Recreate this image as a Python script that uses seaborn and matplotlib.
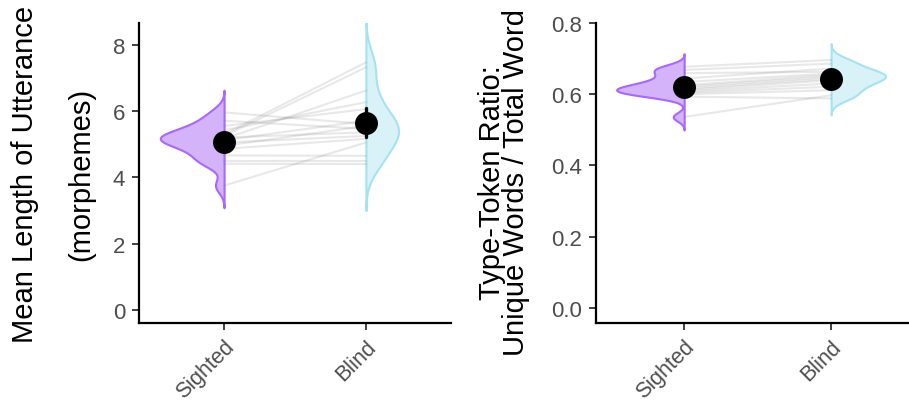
import numpy as np
import pandas as pd
import matplotlib
matplotlib.use("Agg")
import matplotlib.pyplot as plt
import seaborn as sns

sns.set_theme(style="ticks")
plt.rcParams["font.family"] = ["Liberation Sans", "DejaVu Sans"]

groups = ["Sighted", "Blind"]
fill_colors = ["#D4B3FB", "#D8F2F7"]
edge_colors = ["#A968F7", "#A5E3F0"]

# Panel 1: Mean Length of Utterance (paired by child)
mlu_sighted = [5.96, 5.71, 5.55, 5.42, 5.30, 5.25, 5.20, 5.16, 5.12, 5.05,
               4.95, 4.86, 4.66, 4.50, 4.41, 3.75]
mlu_blind = [5.61, 5.46, 6.06, 6.27, 7.47, 7.32, 5.36, 6.62, 5.71, 5.25,
             5.55, 5.16, 4.65, 4.50, 4.40, 5.05]

# Panel 2: Type-Token Ratio (paired by child)
ttr_sighted = [0.677, 0.668, 0.659, 0.644, 0.634, 0.625, 0.621, 0.616, 0.612,
               0.608, 0.604, 0.600, 0.593, 0.536]
ttr_blind = [0.696, 0.686, 0.663, 0.672, 0.658, 0.654, 0.649, 0.644, 0.639,
             0.630, 0.621, 0.611, 0.588, 0.597]

ylabel_1 = "Mean Length of Utterance\n(morphemes)"
ylabel_2 = "Type-Token Ratio:\nUnique Words / Total Word"
yticks_1 = [0, 2, 4, 6, 8]
yticks_2 = [0.0, 0.2, 0.4, 0.6, 0.8]


def make_df(s, b):
    n = len(s)
    df = pd.DataFrame({
        "subject": list(range(n)) * 2,
        "group": ["Sighted"] * n + ["Blind"] * n,
        "val": list(s) + list(b),
    })
    df["xpos"] = df["group"].map({g: i for i, g in enumerate(groups)})
    return df


def draw(ax, df, bws, widths, ylim, yticks, yfmt, ylabel, xlim, lsp, labxy):
    for g, bw, w, ec in zip(groups, bws, widths, edge_colors):
        n_before = len(ax.collections)
        sns.violinplot(data=df[df["group"] == g], x="group", y="val",
                       hue="group", order=groups, hue_order=groups,
                       split=True, dodge=True, inner=None,
                       density_norm="width", cut=3, bw_adjust=bw,
                       width=w, palette=fill_colors, linewidth=1.5,
                       legend=False, ax=ax, saturation=1)
        for c in ax.collections[n_before:]:
            c.set_edgecolor(ec)
    sns.lineplot(data=df, x="xpos", y="val", units="subject", estimator=None,
                 color="#808080", alpha=0.18, linewidth=1.5, ax=ax)
    sns.pointplot(data=df, x="group", y="val", order=groups, color="black",
                  errorbar=("se", 1.96), linestyle="none", markersize=14.5,
                  err_kws={"linewidth": 2.4}, ax=ax)
    ax.set_ylim(*ylim)
    ax.set_xlim(*xlim)
    ax.set_yticks(yticks)
    ax.set_yticklabels([yfmt.format(v) for v in yticks])
    ax.set_xticks(range(len(groups)))
    ax.set_xticklabels(groups, rotation=45, ha="right", va="top",
                       rotation_mode="anchor", fontsize=15.5)
    ax.set_xlabel("")
    ax.set_ylabel(ylabel, fontsize=21, color="black", linespacing=lsp)
    ax.yaxis.set_label_coords(*labxy)
    ax.tick_params(axis="both", labelcolor="#4D4D4D",
                   color="#333333", width=1.3, length=5, pad=5)
    ax.tick_params(axis="x", pad=4)
    ax.tick_params(axis="y", labelsize=16)
    for s in ["left", "bottom"]:
        ax.spines[s].set_linewidth(1.6)
        ax.spines[s].set_color("black")
    sns.despine(ax=ax)


fig = plt.figure(figsize=(9.09, 4.06), dpi=100)
W, H = 909, 406
ax1 = fig.add_axes([139 / W, (H - 324) / H, (451 - 139) / W, (324 - 24) / H])
ax2 = fig.add_axes([596 / W, (H - 324) / H, (909 - 596) / W, (324 - 24) / H])

draw(ax1, make_df(mlu_sighted, mlu_blind), (0.72, 0.9), (0.9, 0.46),
     (-0.4, 8.66), yticks_1, "{:d}", ylabel_1, (-0.6, 1.6), 2.3,
     (-0.14, 0.5))
draw(ax2, make_df(ttr_sighted, ttr_blind), (0.58, 0.82), (0.92, 0.74),
     (-0.043, 0.80), yticks_2, "{:.1f}", ylabel_2, (-0.6, 1.53), 0.85,
     (-0.21, 0.47))

fig.savefig("out.png", dpi=100)
